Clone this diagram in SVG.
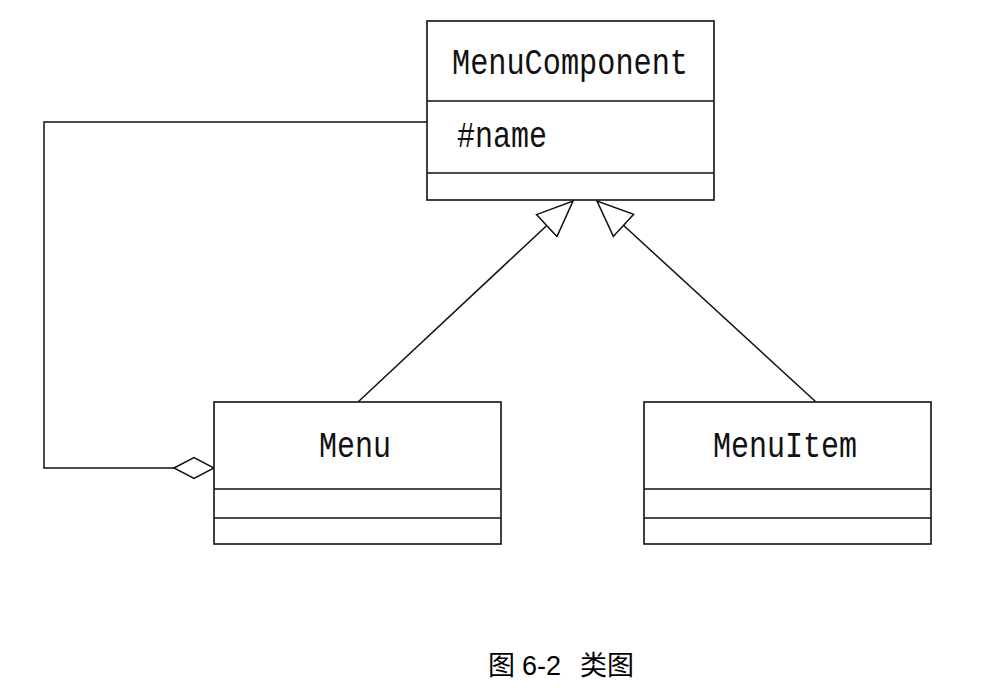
<svg xmlns="http://www.w3.org/2000/svg" width="1000" height="690" viewBox="0 0 1000 690">
<style>
.box{fill:#fff;stroke:#111;stroke-width:1.6}
.div{stroke:#111;stroke-width:1.6}
.conn{fill:none;stroke:#111;stroke-width:1.5}
.lbl{font-family:"Liberation Mono",monospace;font-size:37px;fill:#111}
.cap{font-family:"Liberation Sans","Noto Sans CJK SC",sans-serif;font-size:27px;fill:#000}
</style>
<defs>
<marker id="tri" markerUnits="userSpaceOnUse" markerWidth="38" markerHeight="32" viewBox="-1 -1 38 32" refX="36" refY="15" orient="auto">
<path d="M0,0 L36,15 L0,30 Z" fill="#fff" stroke="#111" stroke-width="1.5"/>
</marker>
<marker id="dia" markerUnits="userSpaceOnUse" markerWidth="42" markerHeight="24" viewBox="-1 -1 42 23" refX="40" refY="10.5" orient="auto">
<path d="M0,10.5 L20,0 L40,10.5 L20,21 Z" fill="#fff" stroke="#111" stroke-width="1.5"/>
</marker>
</defs>
<g id="connectors">
<path class="conn" d="M427,122 H44 V468 H214" marker-end="url(#dia)"/>
<path class="conn" d="M358,402 L573,201" marker-end="url(#tri)"/>
<path class="conn" d="M816,402 L597,201" marker-end="url(#tri)"/>
</g>
<g id="MenuComponent">
<rect class="box" x="427" y="21" width="287" height="179"/>
<line class="div" x1="427" y1="101" x2="714" y2="101"/>
<line class="div" x1="427" y1="173" x2="714" y2="173"/>
<text class="lbl" x="570" y="74" text-anchor="middle" textLength="236" lengthAdjust="spacingAndGlyphs">MenuComponent</text>
<text class="lbl" x="457" y="147" textLength="90" lengthAdjust="spacingAndGlyphs">#name</text>
</g>
<g id="Menu">
<rect class="box" x="214" y="402" width="287" height="142"/>
<line class="div" x1="214" y1="489" x2="501" y2="489"/>
<line class="div" x1="214" y1="518" x2="501" y2="518"/>
<text class="lbl" x="355" y="457" text-anchor="middle" textLength="72" lengthAdjust="spacingAndGlyphs">Menu</text>
</g>
<g id="MenuItem">
<rect class="box" x="644" y="402" width="287" height="142"/>
<line class="div" x1="644" y1="489" x2="931" y2="489"/>
<line class="div" x1="644" y1="518" x2="931" y2="518"/>
<text class="lbl" x="785" y="457" text-anchor="middle" textLength="144" lengthAdjust="spacingAndGlyphs">MenuItem</text>
</g>
<g id="caption">
<text class="cap" y="675"><tspan x="488">图</tspan><tspan x="522">6-2</tspan><tspan x="580">类图</tspan></text>
</g>
</svg>
